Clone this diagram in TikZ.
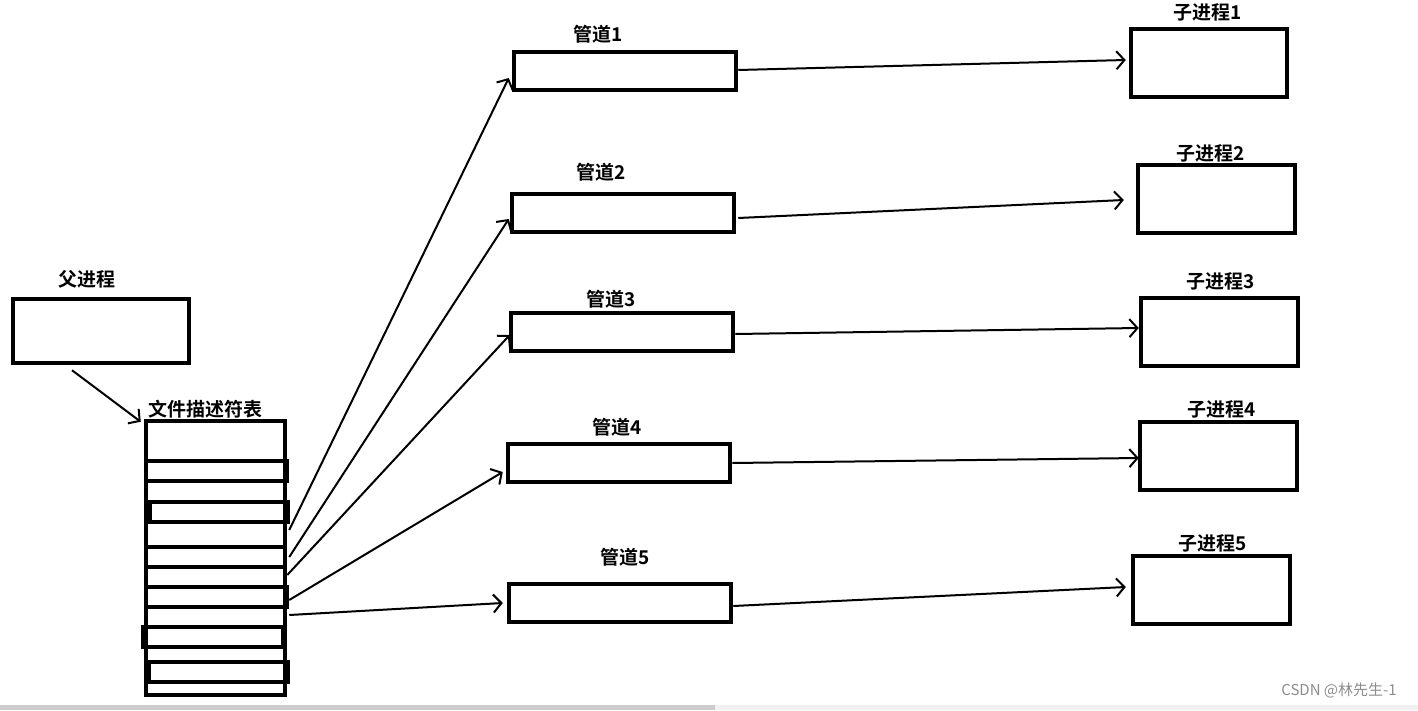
\documentclass[tikz,border=0pt]{standalone}
\usepackage{fontspec}
\setmainfont{Noto Sans CJK SC}[BoldFont={Noto Sans CJK SC Bold}]
\usetikzlibrary{arrows.meta,calc}
\begin{document}
\begin{tikzpicture}[x=1bp,y=-1bp,
  box/.style={draw,line width=4.5bp,inner sep=0pt},
  pipebox/.style={box,minimum width=222bp,minimum height=38bp},
  childbox/.style={box,minimum width=156bp,minimum height=68bp},
  lbl/.style={inner sep=0pt,font=\bfseries\fontsize{19bp}{22bp}\selectfont},
  conn/.style={line width=2bp,-{Straight Barb[length=8bp,width=18bp,line width=2bp]}},
  row/.style={line width=4.5bp}]
\useasboundingbox (0,0) rectangle (1418,710);
% parent
\node[box,minimum width=176bp,minimum height=64bp] (par) at (101,331) {};
\node[lbl] (parl) at (87,279) {父进程};
% table
\node[box,minimum width=139bp,minimum height=274bp] (tbl) at (215.5,558) {};
\node[lbl] (tbll) at (205,409) {文件描述符表};
\draw[row] (146,461) rectangle (287,481);
\draw[row] (150,502) rectangle (288,522);
\draw[row] (146,547) rectangle (285,567);
\draw[row] (146,587) rectangle (287,607);
\draw[row] (143,627) rectangle (283,647);
\draw[row] (149,662) rectangle (288,682);
% pipes
\node[pipebox] (p1) at (625,71) {};
\node[pipebox] (p2) at (623,213) {};
\node[pipebox] (p3) at (622,332) {};
\node[pipebox] (p4) at (619,463) {};
\node[pipebox] (p5) at (620,603) {};
\node[lbl] (p1l) at (598,34) {管道1};
\node[lbl] (p2l) at (601,172) {管道2};
\node[lbl] (p3l) at (611,299) {管道3};
\node[lbl] (p4l) at (617,427) {管道4};
\node[lbl] (p5l) at (625,557) {管道5};
% children
\node[childbox] (c1) at (1209,63) {};
\node[childbox,minimum width=157bp] (c2) at (1216.5,199) {};
\node[childbox,minimum width=157bp] (c3) at (1219.5,332) {};
\node[childbox,minimum width=157bp] (c4) at (1218.5,456) {};
\node[childbox,minimum width=157bp] (c5) at (1211.5,590) {};
\node[lbl] (c1l) at (1208,12) {子进程1};
\node[lbl] (c2l) at (1211,153) {子进程2};
\node[lbl] (c3l) at (1221,281) {子进程3};
\node[lbl] (c4l) at (1222,409) {子进程4};
\node[lbl] (c5l) at (1213,543) {子进程5};
% connectors
\draw[conn] ($(par.south)+(-29,5)$) -- ($(tbl.north west)+(-3,3)$);
\draw[conn] ($(tbl.east)+(2,-28)$) -- ($(p1.west)+(-3,7)$);
\draw[conn] ($(tbl.east)+(2,-1)$) -- ($(p2.west)+(-1,6)$);
\draw[conn] ($(tbl.east)+(0,17)$) -- ($(p3.west)+(1,3)$);
\draw[conn] ($(tbl.east)+(2,42)$) -- ($(p4.west)+(-3,9)$);
\draw[conn] ($(tbl.east)+(2,57)$) -- ($(p5.west)+(-4,0)$);
\draw[conn] ($(p1.east)+(0,-1)$) -- ($(c1.west)+(-3,-3)$);
\draw[conn] ($(p2.east)+(2,5)$) -- ($(c2.west)+(-12,1)$);
\draw[conn] ($(p3.east)+(0,2)$) -- ($(c3.west)+(0,-4)$);
\draw[conn] (p4.east) -- ($(c4.west)+(1,2)$);
\draw[conn] ($(p5.east)+(0,3)$) -- ($(c5.west)+(-5,-3)$);
% watermark and bottom strip
\node[inner sep=0pt,text=black!45,font=\fontsize{15bp}{17bp}\selectfont] (wm) at (1339,690) {CSDN @林先生-1};
\fill[black!20] (0,705) rectangle (715,710);
\fill[black!6] (715,705) rectangle (1418,710);
\end{tikzpicture}
\end{document}
